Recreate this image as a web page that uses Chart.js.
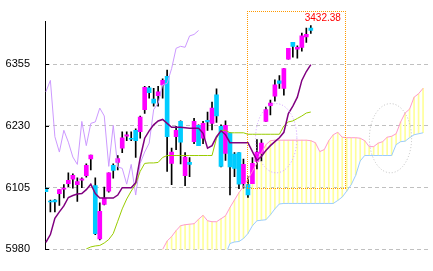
<!DOCTYPE html>
<html>
<head>
<meta charset="utf-8">
<script src="https://cdn.jsdelivr.net/npm/chart.js@4.4.1/dist/chart.umd.min.js"></script>
<style>
html, body { margin: 0; padding: 0; background: #ffffff; }
</style>
</head>
<body>
<canvas id="chart" width="433" height="271"></canvas>
<script>
// daily candles, oldest first
const opens = [6104, 6078, 6080, 6093, 6102, 6113, 6122, 6111, 6120, 6129,
    6163, 6109, 6001, 6071, 6098, 6150, 6156, 6185, 6209, 6205,
    6221, 6218, 6263, 6307, 6284, 6291, 6313, 6330, 6154, 6208,
    6239, 6129, 6156, 6198, 6231, 6205, 6241, 6235, 6293, 6229,
    6174, 6216, 6173, 6176, 6113, 6111, 6113, 6158, 6174, 6239,
    6271, 6290, 6321, 6306, 6365, 6399, 6385, 6389, 6410, 6428];
const closes = [6097, 6076, 6076, 6101, 6104, 6120, 6130, 6117, 6123, 6150,
    6171, 6012, 6057, 6084, 6135, 6140, 6164, 6206, 6212, 6203,
    6200, 6248, 6308, 6297, 6276, 6299, 6322, 6208, 6177, 6221,
    6197, 6167, 6152, 6239, 6190, 6235, 6238, 6266, 6250, 6148,
    6231, 6147, 6144, 6112, 6152, 6090, 6154, 6177, 6195, 6263,
    6276, 6313, 6316, 6346, 6387, 6391, 6389, 6412, 6415, 6423];
const highs = [6104, 6080, 6081, 6101, 6111, 6135, 6133, 6125, 6125, 6153,
    6171, 6125, 6074, 6106, 6135, 6153, 6170, 6218, 6218, 6218,
    6224, 6250, 6310, 6310, 6306, 6310, 6325, 6343, 6185, 6229,
    6240, 6176, 6166, 6245, 6232, 6239, 6258, 6278, 6305, 6232,
    6240, 6216, 6176, 6176, 6163, 6127, 6166, 6202, 6202, 6268,
    6282, 6323, 6332, 6346, 6387, 6399, 6392, 6418, 6428, 6433];
const lows = [6097, 6056, 6056, 6069, 6084, 6107, 6104, 6077, 6105, 6126,
    6141, 6010, 5999, 6070, 6096, 6124, 6141, 6176, 6200, 6200,
    6166, 6205, 6255, 6286, 6270, 6270, 6286, 6138, 6111, 6182,
    6153, 6109, 6127, 6194, 6190, 6194, 6221, 6222, 6237, 6147,
    6160, 6090, 6127, 6103, 6104, 6085, 6113, 6143, 6159, 6239,
    6252, 6280, 6306, 6292, 6365, 6369, 6367, 6381, 6399, 6417];

// ichimoku lines
const conversionLine = [5994, 6010, 6043, 6056, 6068, 6085, 6089, 6092, 6093, 6101,
    6112, 6093, 6084, 6084, 6084, 6084, 6090, 6105, 6105, 6105,
    6115, 6165, 6205, 6220, 6232, 6240, 6243, 6235, 6227, 6227,
    6227, 6226, 6225, 6225, 6225, 6215, 6185, 6190, 6208, 6220,
    6212, 6196, 6196, 6196, 6196, 6196, 6178, 6160, 6168, 6180,
    6190, 6198, 6206, 6217, 6255, 6270, 6288, 6322, 6340, 6354];
const baseLine = [null, null, null, null, null, null, null, null, null, 5981,
    5985, 5987, 5988, 5993, 6000, 6012, 6037, 6062, 6082, 6098,
    6112, 6138, 6154, 6155, 6155, 6156, 6166, 6170, 6170, 6170,
    6170, 6170, 6170, 6170, 6170, 6170, 6170, 6170, 6205, 6221,
    6221, 6216, 6216, 6216, 6216, 6213, 6213, 6213, 6213, 6213,
    6213, 6213, 6213, 6230, 6238, 6240, 6245, 6250, 6256, 6258];
const laggingSpan = [6299, 6322, 6208, 6177, 6221, 6197, 6167, 6152, 6239, 6190,
    6235, 6238, 6266, 6250, 6148, 6231, 6147, 6144, 6112, 6152,
    6090, 6154, 6177, 6195, 6263, 6276, 6313, 6316, 6346, 6387,
    6391, 6389, 6412, 6415, 6423];
const leadingSpanA = [5980, 5997, 6006, 6018, 6028, 6030, 6031, 6032, 6041, 6049,
    6038, 6036, 6036, 6042, 6048, 6065, 6080, 6095, 6107, 6122,
    6138, 6155, 6175, 6192, 6200, 6201, 6201, 6201, 6201, 6201,
    6201, 6201, 6201, 6200, 6196, 6178, 6182, 6200, 6212, 6217,
    6207, 6206, 6206, 6206, 6205, 6200, 6188, 6188, 6195, 6198,
    6207, 6209, 6214, 6238, 6256, 6264, 6288, 6295, 6306];
const leadingSpanB = [5960, 5960, 5960, 5960, 5960, 5960, 5960, 5960, 5960, 5960,
    5960, 5960, 5960, 5960, 5970, 5992, 5995, 5996, 6002, 6012,
    6028, 6038, 6039, 6040, 6050, 6062, 6072, 6073, 6073, 6073,
    6073, 6073, 6073, 6073, 6073, 6073, 6073, 6073, 6073, 6079,
    6086, 6098, 6111, 6130, 6159, 6170, 6170, 6170, 6170, 6170,
    6170, 6170, 6192, 6198, 6199, 6206, 6212, 6214, 6216];
const cloudStart = 26;

const tickValues = [5980, 6105, 6230, 6355];
const lastPriceText = '3432.38';

// annotations, in index / price units
const highlightBox = { from: 44.85, to: 66.7, low: 6105, high: 6462 };
const priceTag = { x: 65.7, y: 6442 };
const rings = [
    { x: 51.3, y: 6205, rx: 4.6, ry: 70, color: '#cc99ff' },
    { x: 76.75, y: 6205, rx: 4.7, ry: 70, color: '#bdbdbd' }
];

const upColor = '#ff00ff';
const downColor = '#00ccff';

const candleBodies = opens.map((o, i) => ({ x: i, y: [o, closes[i]] }));
const candleWicks = opens.map((o, i) => ({ x: i, y: [lows[i], highs[i]] }));
const bodyColors = opens.map((o, i) => closes[i] >= o ? upColor : downColor);
const cloudBars = leadingSpanA.map((a, k) => ({ x: k + cloudStart, y: [leadingSpanB[k], a] }));

const toPoints = (arr, shift) => arr.map((v, i) => ({ x: i + shift, y: v }));

const overlay = {
    id: 'overlay',
    afterDatasetsDraw(chart) {
        const { ctx, chartArea } = chart;
        const x = chart.scales.x;
        const y = chart.scales.y;
        ctx.save();

        // small ticks on the inside of the axis
        ctx.strokeStyle = '#000000';
        ctx.lineWidth = 1;
        tickValues.forEach(v => {
            const py = Math.round(y.getPixelForValue(v)) + 0.5;
            ctx.beginPath();
            ctx.moveTo(chartArea.left, py);
            ctx.lineTo(chartArea.left + 4, py);
            ctx.stroke();
        });

        // dotted orange box, one pixel per dot
        const bx1 = Math.round(x.getPixelForValue(highlightBox.from));
        const bx2 = Math.round(x.getPixelForValue(highlightBox.to));
        const by1 = Math.round(y.getPixelForValue(highlightBox.high));
        const by2 = Math.round(y.getPixelForValue(highlightBox.low));
        ctx.fillStyle = '#ff9900';
        for (let px = bx1; px <= bx2; px += 2) {
            ctx.fillRect(px, by1, 1, 1);
            ctx.fillRect(px, by2, 1, 1);
        }
        for (let py = by1; py <= by2; py += 2) {
            ctx.fillRect(bx1, py, 1, 1);
            ctx.fillRect(bx2, py, 1, 1);
        }

        // dotted rings
        ctx.setLineDash([1, 2]);
        rings.forEach(r => {
            const cx = x.getPixelForValue(r.x);
            const cy = y.getPixelForValue(r.y);
            const rx = Math.abs(x.getPixelForValue(r.x + r.rx) - cx);
            const ry = Math.abs(y.getPixelForValue(r.y + r.ry) - cy);
            ctx.strokeStyle = r.color;
            ctx.beginPath();
            ctx.ellipse(cx, cy, rx, ry, 0, 0, Math.PI * 2);
            ctx.stroke();
        });
        ctx.setLineDash([]);

        // price label
        ctx.fillStyle = '#ff0000';
        ctx.font = '10px "Liberation Sans", Arial, sans-serif';
        ctx.textAlign = 'right';
        ctx.textBaseline = 'alphabetic';
        ctx.fillText(lastPriceText, x.getPixelForValue(priceTag.x), y.getPixelForValue(priceTag.y));

        ctx.restore();
    }
};

const lineStyle = { type: 'line', pointRadius: 0, borderWidth: 1, tension: 0, fill: false, spanGaps: false };

new Chart(document.getElementById('chart'), {
    type: 'bar',
    data: {
        datasets: [
            Object.assign({}, lineStyle, { label: 'tenkan', data: toPoints(conversionLine, 0), borderColor: '#800080', borderWidth: 1.5, order: 0 }),
            Object.assign({}, lineStyle, { label: 'kijun', data: toPoints(baseLine, 0), borderColor: '#99cc00', order: 1 }),
            Object.assign({}, lineStyle, { label: 'chikou', data: toPoints(laggingSpan, 0), borderColor: '#cc99ff', order: 2 }),
            Object.assign({}, lineStyle, { label: 'senkouA', data: toPoints(leadingSpanA, cloudStart), borderColor: '#ff99cc', order: 3 }),
            Object.assign({}, lineStyle, { label: 'senkouB', data: toPoints(leadingSpanB, cloudStart), borderColor: '#99ccff', order: 3 }),
            { label: 'body', data: candleBodies, backgroundColor: bodyColors, barThickness: 4, minBarLength: 1, grouped: false, order: 4 },
            { label: 'wick', data: candleWicks, backgroundColor: '#000000', barThickness: 1, grouped: false, order: 5 },
            { label: 'cloud', data: cloudBars, backgroundColor: '#ffff99', barThickness: 1, grouped: false, order: 6 }
        ]
    },
    options: {
        responsive: false,
        animation: false,
        devicePixelRatio: 1,
        events: [],
        layout: { padding: { top: 20, right: 5, bottom: 14, left: 0 } },
        plugins: { legend: { display: false }, tooltip: { enabled: false } },
        scales: {
            x: {
                type: 'linear',
                display: false,
                min: -0.2,
                max: 85.1,
                offset: false
            },
            y: {
                min: 5980,
                max: 6441,
                afterBuildTicks: scale => {
                    scale.ticks = tickValues.map(v => ({ value: v }));
                },
                afterFit: scale => {
                    scale.width = 45;
                },
                grid: { color: '#c0c0c0', lineWidth: 1, drawTicks: false },
                border: { color: '#000000', width: 1, dash: [4, 3] },
                ticks: {
                    color: '#000000',
                    padding: 15,
                    callback: v => String(v),
                    font: { family: '"Liberation Sans", Arial, sans-serif', size: 11 }
                }
            }
        }
    },
    plugins: [overlay]
});
</script>
</body>
</html>
